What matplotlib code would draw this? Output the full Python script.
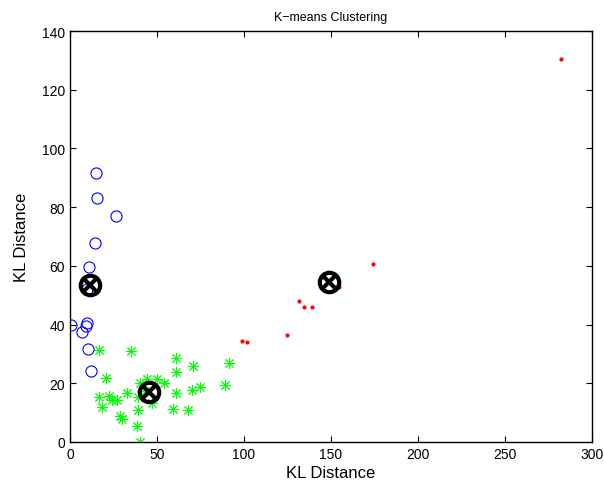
import matplotlib
matplotlib.use("Agg")
import matplotlib.pyplot as plt

plt.rcParams['font.family'] = ['Liberation Sans', 'DejaVu Sans']

# Cluster 1 (blue circles)
c1_x = [14.9, 15.5, 26.4, 14.4, 10.9, 9.8, 0.6, 9.6, 9.0, 7.1, 10.5, 11.9]
c1_y = [91.6, 83.1, 77.0, 67.8, 59.6, 52.1, 39.8, 40.5, 39.6, 37.4, 31.7, 24.1]

# Cluster 2 (green asterisks)
c2_x = [16.9, 35.1, 60.7, 70.9, 91.4, 20.5, 60.7, 44.1, 49.8, 54.2, 40.2, 89.1,
        74.9, 70.3, 60.7, 32.6, 22.6, 16.9, 24.1, 27.2, 38.9, 47.1, 18.6, 38.9,
        59.4, 67.8, 28.5, 30.1, 38.7, 40.4, 43.0]
c2_y = [31.4, 31.0, 28.6, 26.0, 26.9, 21.8, 23.8, 21.5, 21.5, 20.0, 20.0, 19.5,
        18.6, 17.6, 16.7, 16.6, 15.8, 15.2, 14.4, 14.3, 15.2, 13.2, 11.8, 10.9,
        11.2, 10.9, 9.0, 8.0, 5.3, 0.1, 17.5]

# Cluster 3 (red dots)
c3_x = [282.2, 174.1, 131.4, 134.7, 138.9, 124.9, 99.0, 101.5, 154.6]
c3_y = [130.4, 60.6, 48.1, 46.0, 45.9, 36.4, 34.4, 34.0, 52.7]

# Centroids
cen_x = [11.5, 45.4, 148.9]
cen_y = [53.5, 17.0, 54.5]

fig = plt.figure(figsize=(6.04, 4.89), dpi=100)
ax = fig.add_axes([70/604, 46/489, 522/604, 411/489])

ax.plot(c3_x, c3_y, '.', color='red', ms=4, ls='none')
ax.plot(c2_x, c2_y, ls='none', marker=(8, 2, 0), color='#00ff00', ms=8, mew=0.7)
ax.plot(c1_x, c1_y, 'o', ls='none', mfc='none', mec='blue', ms=8, mew=0.8)
ax.plot(cen_x, cen_y, 'o', ls='none', mfc='none', mec='black', ms=14, mew=3)
ax.plot(cen_x, cen_y, 'x', ls='none', color='black', ms=9, mew=3)

ax.set_xlim(0, 300)
ax.set_ylim(0, 140)
ax.set_xticks([0, 50, 100, 150, 200, 250, 300])
ax.set_yticks([0, 20, 40, 60, 80, 100, 120, 140])
ax.tick_params(direction='in', top=True, right=True, labelsize=10, length=4)
for s in ax.spines.values():
    s.set_linewidth(1.0)

ax.set_xlabel('KL Distance', fontsize=12, labelpad=3)
ax.set_ylabel('KL Distance', fontsize=12, labelpad=9)
ax.set_title('K\u2212means Clustering', fontsize=9, pad=8)

fig.savefig('out.png', dpi=100)
